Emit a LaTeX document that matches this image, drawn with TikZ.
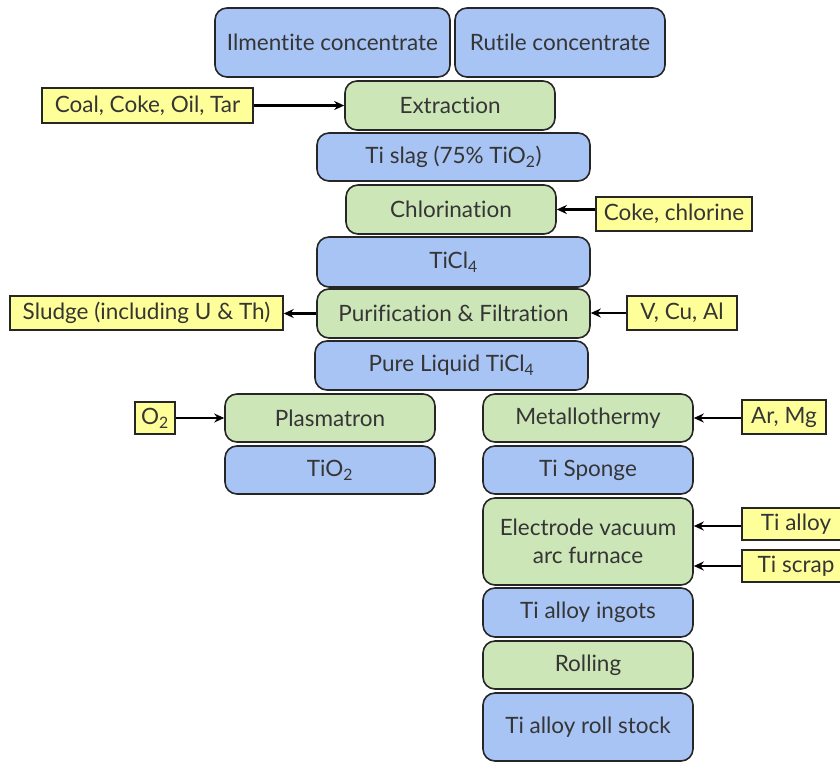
\documentclass[tikz,border=0pt]{standalone}
\usepackage{fontspec}
\setmainfont[Ligatures=NoCommon]{Lato}
\usetikzlibrary{arrows.meta}
\definecolor{bfill}{HTML}{A8C4F4}
\definecolor{gfill}{HTML}{CDE6B8}
\definecolor{yfill}{HTML}{FFFF99}
\definecolor{txt}{HTML}{353535}
\tikzset{
  base/.style={draw=black!85, line width=1.6pt, rounded corners=12pt, text=txt, font=\fontsize{22.5}{28}\selectfont, inner sep=0pt, align=center},
  bbox/.style={base, fill=bfill},
  gbox/.style={base, fill=gfill},
  ybox/.style={draw=black!85, line width=1.4pt, fill=yfill, text=txt, font=\fontsize{22.5}{28}\selectfont, inner sep=0pt},
  arr/.style={line width=2.6pt, -{Stealth[length=10pt,width=9pt]}},
}
\begin{document}
\begin{tikzpicture}[x=1pt,y=-1pt]
\useasboundingbox (0,0) rectangle (840,761);
\begin{scope}
\clip (0,0) rectangle (840,761);
\node[bbox, minimum width=235pt, minimum height=69pt] (ilm) at (332.5,42.5) {Ilmentite concentrate};
\node[bbox, minimum width=210pt, minimum height=69pt] (rut) at (560,42.5) {Rutile concentrate};
\node[gbox, minimum width=210pt, minimum height=49pt] (extr) at (450,105.5) {Extraction};
\node[bbox, minimum width=273pt, minimum height=48pt] (slag) at (453.5,157) {Ti slag (75\% TiO\textsubscript{2})};
\node[gbox, minimum width=210pt, minimum height=49pt] (chlor) at (451,209.5) {Chlorination};
\node[bbox, minimum width=273pt, minimum height=50pt] (ticl) at (453.5,262) {TiCl\textsubscript{4}};
\node[gbox, minimum width=273pt, minimum height=49pt] (purif) at (453.5,313.5) {Purification \& Filtration};
\node[bbox, minimum width=273pt, minimum height=49pt] (pure) at (451.5,365.5) {Pure Liquid TiCl\textsubscript{4}};
\node[gbox, minimum width=210pt, minimum height=48pt] (plasma) at (330,418) {Plasmatron};
\node[bbox, minimum width=210pt, minimum height=48pt] (tio) at (330,470) {TiO\textsubscript{2}};
\node[gbox, minimum width=210pt, minimum height=48pt] (metal) at (588,418) {Metallothermy};
\node[bbox, minimum width=210pt, minimum height=48pt] (sponge) at (588,470) {Ti Sponge};
\node[gbox, minimum width=210pt, minimum height=87pt] (elec) at (588,541.5) {Electrode vacuum\\arc furnace};
\node[bbox, minimum width=210pt, minimum height=49pt] (ingot) at (588,612.5) {Ti alloy ingots};
\node[gbox, minimum width=210pt, minimum height=48pt] (roll) at (588,665) {Rolling};
\node[bbox, minimum width=210pt, minimum height=68pt] (stock) at (588,727) {Ti alloy roll stock};

\node[ybox, minimum width=211pt, minimum height=35pt] (coal) at (147.5,105.5) {Coal, Coke, Oil, Tar};
\node[ybox, minimum width=156pt, minimum height=34pt] (coke) at (674,214) {Coke, chlorine};
\node[ybox, minimum width=273pt, minimum height=34pt] (sludge) at (146.5,313) {Sludge (including U \& Th)};
\node[ybox, minimum width=110pt, minimum height=34pt] (vcu) at (682,313) {V, Cu, Al};
\node[ybox, minimum width=40pt, minimum height=32pt] (oxy) at (155,418) {O\textsubscript{2}};
\node[ybox, minimum width=84pt, minimum height=34pt] (armg) at (784,417) {Ar, Mg};
\node[ybox, minimum width=108pt, minimum height=32pt] (talloy) at (796,524) {Ti alloy};
\node[ybox, minimum width=108pt, minimum height=32pt] (tscrap) at (796,566) {Ti scrap};

\draw[arr] (coal.east) -- (coal.east -| extr.west);
\draw[arr] (coke.west |- chlor.east) -- (chlor.east);
\draw[arr] (purif.west) -- (purif.west -| sludge.east);
\draw[arr] (vcu.west) -- (vcu.west -| purif.east);
\draw[arr] (oxy.east) -- (oxy.east -| plasma.west);
\draw[arr] (armg.west |- metal.east) -- (metal.east);
\draw[arr] ([yshift=-2pt]talloy.west) -- ([yshift=-2pt]talloy.west -| elec.east);
\draw[arr] (tscrap.west) -- (tscrap.west -| elec.east);
\end{scope}
\end{tikzpicture}
\end{document}
